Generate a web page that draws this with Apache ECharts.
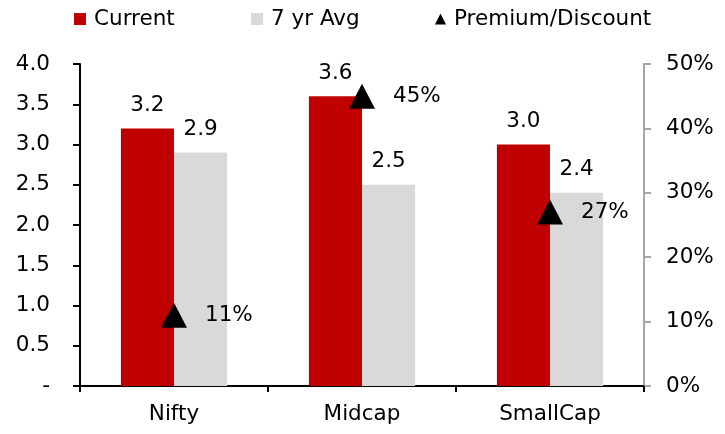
<!DOCTYPE html>
<html>
<head>
<meta charset="utf-8">
<script src="https://cdn.jsdelivr.net/npm/echarts@6/dist/echarts.min.js"></script>
<style>
  html, body { margin: 0; padding: 0; background: #fff; }
  #chart { width: 725px; height: 434px; }
</style>
</head>
<body>
<div id="chart"></div>
<script>
// Valuation multiples: current vs 7-year average, with premium/discount on the right axis
const categories = ['Nifty', 'Midcap', 'SmallCap'];
const currentVals = [3.2, 3.6, 3.0];
const avgVals = [2.9, 2.5, 2.4];
const premiumPct = [11, 45, 27];
const seriesNames = ['Current', '7 yr Avg', 'Premium/Discount'];

const FONT = '"DejaVu Sans", sans-serif';
const TXT = { color: '#000', fontFamily: FONT, fontSize: 21.5 };

const chart = echarts.init(document.getElementById('chart'), null, { renderer: 'canvas' });

// one legend block per series so each entry sits at its own x position
function legendItem(name, icon, left, size) {
  return {
    left: left,
    top: 8,
    padding: 0,
    itemWidth: size,
    itemHeight: size,
    textStyle: Object.assign({ padding: [0, 0, 0, 3] }, TXT),
    data: [{ name: name, icon: icon }]
  };
}

chart.setOption({
  animation: false,
  textStyle: { fontFamily: FONT },
  legend: [
    legendItem(seriesNames[0], 'rect', 74, 12),
    legendItem(seriesNames[1], 'rect', 251, 12),
    legendItem(seriesNames[2], 'triangle', 435, 11)
  ],
  grid: { left: 80, right: 81, top: 64, bottom: 48 },
  xAxis: {
    type: 'category',
    data: categories,
    axisLine: { lineStyle: { color: '#000', width: 2 } },
    axisTick: { show: true, length: 6, lineStyle: { color: '#000', width: 2 } },
    axisLabel: Object.assign({ margin: 17 }, TXT)
  },
  yAxis: [
    {
      type: 'value',
      min: 0,
      max: 4,
      interval: 0.5,
      splitLine: { show: false },
      axisLine: { show: true, lineStyle: { color: '#000', width: 2 } },
      axisTick: { show: true, length: 7, lineStyle: { color: '#000', width: 2 } },
      axisLabel: Object.assign({
        margin: 30,
        formatter: v => (v === 0 ? '-' : v.toFixed(1))
      }, TXT)
    },
    {
      type: 'value',
      min: 0,
      max: 50,
      interval: 10,
      position: 'right',
      splitLine: { show: false },
      axisLine: { show: true, lineStyle: { color: '#A6A6A6', width: 2 } },
      axisTick: { show: true, length: 7, lineStyle: { color: '#A6A6A6', width: 2 } },
      axisLabel: Object.assign({ margin: 22, formatter: v => v + '%' }, TXT)
    }
  ],
  series: [
    {
      name: seriesNames[0],
      type: 'bar',
      data: currentVals,
      barGap: '0%',
      barCategoryGap: '43.5%',
      itemStyle: { color: '#C00000' },
      label: Object.assign({
        show: true,
        position: 'top',
        distance: 12,
        formatter: p => p.value.toFixed(1)
      }, TXT),
      z: 2
    },
    {
      name: seriesNames[1],
      type: 'bar',
      data: avgVals,
      itemStyle: { color: '#D9D9D9' },
      label: Object.assign({
        show: true,
        position: 'top',
        distance: 12,
        formatter: p => p.value.toFixed(1)
      }, TXT),
      z: 2
    },
    {
      name: seriesNames[2],
      type: 'scatter',
      yAxisIndex: 1,
      data: premiumPct,
      symbol: 'triangle',
      symbolSize: [26, 25],
      itemStyle: { color: '#000', opacity: 1 },
      label: Object.assign({
        show: true,
        position: 'right',
        distance: 18,
        formatter: p => p.value + '%'
      }, TXT),
      emphasis: { disabled: true },
      z: 5
    }
  ]
});
</script>
</body>
</html>
